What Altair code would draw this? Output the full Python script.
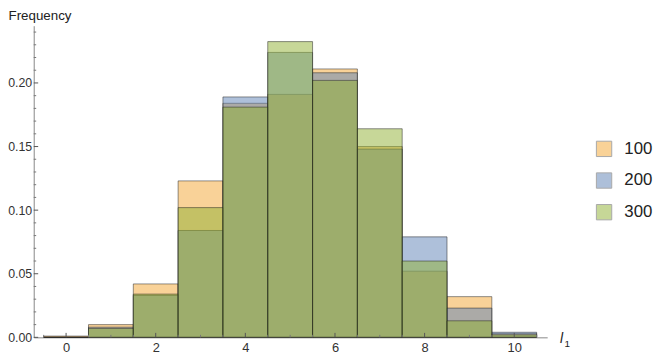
import altair as alt
import pandas as pd

centers = [0, 1, 2, 3, 4, 5, 6, 7, 8, 9, 10]
series = ["100", "200", "300"]
f100 = [0.001, 0.010, 0.042, 0.123, 0.184, 0.191, 0.211, 0.150, 0.052, 0.032, 0.003]
f200 = [0.000, 0.008, 0.033, 0.084, 0.189, 0.224, 0.208, 0.148, 0.079, 0.023, 0.004]
f300 = [0.000, 0.007, 0.034, 0.102, 0.181, 0.2325, 0.202, 0.164, 0.060, 0.013, 0.002]
colors = ["#F4A632", "#5E81B5", "#8FB032"]

x_major = [0, 2, 4, 6, 8, 10]
x_minor = [-0.5, 0.5, 1, 1.5, 2.5, 3, 3.5, 4.5, 5, 5.5, 6.5, 7, 7.5, 8.5, 9, 9.5, 10.5]
y_major = [0.0, 0.05, 0.10, 0.15, 0.20]
y_minor = [0.01, 0.02, 0.03, 0.04, 0.06, 0.07, 0.08, 0.09, 0.11, 0.12, 0.13, 0.14,
           0.16, 0.17, 0.18, 0.19, 0.21, 0.22, 0.23, 0.24]

rows = []
for s, vals in zip(series, [f100, f200, f300]):
    for c, v in zip(centers, vals):
        rows.append({"series": s, "start": c - 0.5, "end": c + 0.5, "freq": v})
df = pd.DataFrame(rows)

W, H = 519, 315
FONT = "Liberation Sans"
xs = alt.Scale(domain=[-0.722, 10.735], nice=False, zero=False)
ys = alt.Scale(domain=[0, 0.245], nice=False)

bars = alt.Chart(df).mark_bar(
    fillOpacity=0.5, stroke="#222", strokeOpacity=0.5, strokeWidth=1
).encode(
    x=alt.X("start:Q", scale=xs, axis=alt.Axis(
        values=x_major, format="d", title=None, grid=False, ticks=False,
        domainColor="#888", labelFontSize=13, labelColor="#333", labelPadding=4,
        labelFont=FONT)),
    x2="end:Q",
    y=alt.Y("freq:Q", scale=ys, axis=alt.Axis(
        values=y_major, format=".2f", title="Frequency", grid=False, ticks=False,
        domainColor="#888", labelFontSize=12.5, labelColor="#333", labelPadding=2,
        labelFont=FONT, titleAngle=0, titleX=-26, titleY=-6, titleAlign="left",
        titleBaseline="alphabetic", titleFontSize=13.5, titleFontWeight="normal",
        titleFont=FONT, titleColor="#222")),
    y2=alt.datum(0),
    color=alt.Color("series:N", scale=alt.Scale(domain=series, range=colors),
                    legend=alt.Legend(title=None, orient="none", legendX=568, legendY=116,
                                      symbolType="square", symbolSize=240,
                                      symbolStrokeColor="#555", symbolStrokeWidth=1,
                                      symbolOpacity=0.5, labelFontSize=17,
                                      labelFont=FONT, labelColor="#222",
                                      labelOffset=12, rowPadding=11, padding=0)),
)

xmaj = alt.Chart(pd.DataFrame({"t": x_major})).mark_rule(color="#555").encode(
    x=alt.X("t:Q", scale=xs), y=alt.value(H), y2=alt.value(H - 4.5))
xmin = alt.Chart(pd.DataFrame({"t": x_minor})).mark_rule(color="#777").encode(
    x=alt.X("t:Q", scale=xs), y=alt.value(H), y2=alt.value(H - 2.5))
ymaj = alt.Chart(pd.DataFrame({"t": y_major})).mark_rule(color="#555").encode(
    y=alt.Y("t:Q", scale=ys), x=alt.value(0), x2=alt.value(4.5))
ymin = alt.Chart(pd.DataFrame({"t": y_minor})).mark_rule(color="#777").encode(
    y=alt.Y("t:Q", scale=ys), x=alt.value(0), x2=alt.value(2.5))

lab_l = alt.Chart(pd.DataFrame({"s": ["l"]})).mark_text(
    font=FONT, fontStyle="italic", fontSize=14, align="left", baseline="alphabetic",
    color="#222").encode(text="s:N", x=alt.value(W + 13), y=alt.value(H + 6))
lab_1 = alt.Chart(pd.DataFrame({"s": ["1"]})).mark_text(
    font=FONT, fontSize=10, align="left", baseline="alphabetic",
    color="#222").encode(text="s:N", x=alt.value(W + 17.5), y=alt.value(H + 10))

chart = alt.layer(bars, xmin, xmaj, ymin, ymaj, lab_l, lab_1).properties(
    width=W, height=H, autosize="none",
    padding={"left": 26, "top": 16, "right": 110, "bottom": 20},
).configure_view(stroke=None)

chart.save("out.html", embed_options={"renderer": "svg", "actions": False})
